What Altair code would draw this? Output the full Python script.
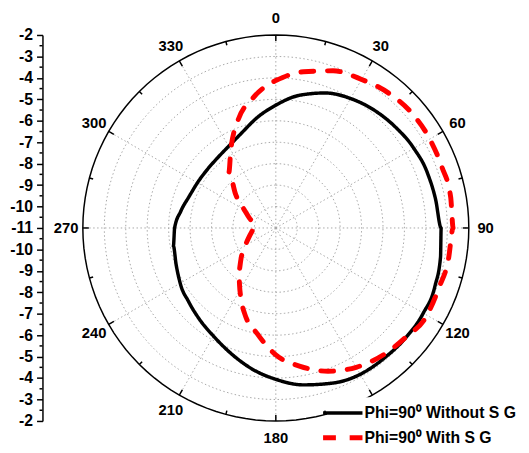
import altair as alt
import pandas as pd

# ---------------- data ----------------
angles = [0, 10, 20, 30, 40, 50, 60, 70, 80, 90, 100, 110, 120, 130, 140, 150, 160, 170, 180,
          190, 200, 210, 220, 230, 240, 250, 260, 270, 280, 290, 300, 310, 320, 330, 340, 350, 360]
without_sg = [-5.27, -4.72, -4.30, -4.03, -3.84, -3.70, -3.57, -3.48, -3.43, -3.29, -3.20, -3.10,
              -3.06, -3.07, -3.10, -3.12, -3.30, -3.57, -3.94, -4.35, -4.80, -5.18, -5.45, -5.68,
              -5.85, -6.05, -6.15, -6.28, -6.50, -6.70, -6.78, -6.80, -6.75, -6.60, -6.30, -5.80, -5.27]
with_sg = [-4.12, -3.60, -3.20, -3.00, -2.80, -2.70, -2.71, -2.75, -2.72, -2.73, -2.82, -2.90,
           -2.86, -3.08, -3.25, -3.50, -3.89, -4.45, -5.08, -6.00, -6.75, -7.65, -8.30, -8.90,
           -9.35, -9.65, -9.85, -10.00, -9.98, -9.70, -9.30, -8.55, -7.60, -6.80, -5.75, -4.85, -4.12]
series_names = ["Phi=90\u2070 Without  S G", "Phi=90\u2070 With S G"]
series_colors = ["#000000", "#ff0000"]

r_min, r_max = -11, -2
grid_levels = [-10, -9, -8, -7, -6, -5, -4, -3]
spoke_angles = [0, 30, 60, 90, 120, 150, 180, 210, 240, 270, 300, 330]
minor_tick_angles = [15, 45, 75, 105, 135, 165, 195, 225, 255, 285, 315, 345]
angle_labels = ["0", "30", "60", "90", "120", "150", "180", "210", "240", "270", "300", "330"]
major_axis_ticks = list(range(-9, 10))
minor_axis_ticks = [v + 0.5 for v in range(-9, 9)]

FONT = "Liberation Sans"
SPAN = r_max - r_min  # radial span in dB

# ---------------- tables ----------------
curve_df = pd.DataFrame({
    "angle": angles + angles,
    "value": without_sg + with_sg,
    "series": [series_names[0]] * len(angles) + [series_names[1]] * len(angles),
})
circle_steps = list(range(0, 361, 3))
grid_df = pd.DataFrame(
    [{"level": lv, "angle": a} for lv in grid_levels for a in circle_steps])
outer_df = pd.DataFrame({"level": [r_max] * len(circle_steps), "angle": circle_steps})
spoke_df = pd.DataFrame({"angle": spoke_angles})
tick_df = pd.DataFrame({
    "angle": spoke_angles + minor_tick_angles,
    "len": [0.28] * len(spoke_angles) + [0.18] * len(minor_tick_angles),
})
label_df = pd.DataFrame({"angle": spoke_angles, "label": angle_labels})
minor_df = pd.DataFrame({"pos": minor_axis_ticks})

xs = alt.Scale(domain=[-SPAN, SPAN], nice=False, zero=False)
ys = alt.Scale(domain=[-SPAN, SPAN], nice=False, zero=False)

y_axis = alt.Axis(
    values=major_axis_ticks,
    labelExpr=f"'' + ({r_min} + abs(datum.value))",
    tickSize=6,
    offset=41, grid=False, title=None,
    domainColor="black", domainWidth=1.5, tickColor="black", tickWidth=1.5,
    labelFont=FONT, labelFontSize=16, labelFontWeight="bold", labelColor="black",
    labelPadding=4, labelFlush=False, labelOverlap=False,
)


def X(field):
    return alt.X(field, scale=xs, axis=None)


def Y(field):
    return alt.Y(field, scale=ys, axis=y_axis)


SIN = "sin(datum.angle * PI / 180)"
COS = "cos(datum.angle * PI / 180)"
RR = f"(datum.value - ({r_min}))"
RL = f"(datum.level - ({r_min}))"

grid = alt.Chart(grid_df).transform_calculate(
    x=f"{RL} * {SIN}", y=f"{RL} * {COS}"
).mark_line(stroke="#a8a8a8", strokeWidth=1, strokeDash=[1.5, 2.5]).encode(
    x=X("x:Q"), y=Y("y:Q"), detail="level:N", order="angle:Q",
)

spokes = alt.Chart(spoke_df).transform_calculate(
    x0="0", y0="0", x1=f"{SPAN} * {SIN}", y1=f"{SPAN} * {COS}"
).mark_rule(stroke="#a8a8a8", strokeWidth=1, strokeDash=[1.5, 2.5]).encode(
    x=X("x0:Q"), y=Y("y0:Q"), x2="x1:Q", y2="y1:Q",
)

outer = alt.Chart(outer_df).transform_calculate(
    x=f"{RL} * {SIN}", y=f"{RL} * {COS}"
).mark_line(stroke="black", strokeWidth=1.5).encode(
    x=X("x:Q"), y=Y("y:Q"), order="angle:Q",
)

ticks = alt.Chart(tick_df).transform_calculate(
    x1=f"{SPAN} * {SIN}", y1=f"{SPAN} * {COS}",
    x2=f"({SPAN} - datum.len) * {SIN}", y2=f"({SPAN} - datum.len) * {COS}",
).mark_rule(stroke="black", strokeWidth=1.5).encode(
    x=X("x1:Q"), y=Y("y1:Q"), x2="x2:Q", y2="y2:Q",
)

labels = alt.Chart(label_df).transform_calculate(
    x=f"{SPAN * 1.087} * {SIN}", y=f"{SPAN * 1.087} * {COS}"
).mark_text(font=FONT, fontSize=15, fontWeight="bold", color="black",
            align="center", baseline="middle").encode(
    x=X("x:Q"), y=Y("y:Q"), text="label:N",
)

# minor ticks of the left dB axis (the axis itself sits 41 px left of the plot)
minor_ticks = alt.Chart(minor_df).mark_rule(stroke="black", strokeWidth=1.5).encode(
    x=alt.value(-41),
    x2=alt.value(-44),
    y=Y("pos:Q"),
)

legend = alt.Legend(
    orient="none", legendX=248, legendY=368, title=None,
    fillColor="white", padding=8,
    symbolType="M-4,0H4", symbolSize=100,
    labelFont=FONT, labelFontSize=16, labelFontWeight="bold", labelColor="black",
    labelOffset=14, rowPadding=7, labelLimit=400,
)

curves = alt.Chart(curve_df).transform_calculate(
    x=f"{RR} * {SIN}", y=f"{RR} * {COS}"
).mark_line(strokeCap="round", strokeJoin="round", interpolate="monotone").encode(
    x=X("x:Q"),
    y=Y("y:Q"),
    order="angle:Q",
    color=alt.Color("series:N", scale=alt.Scale(domain=series_names, range=series_colors),
                    legend=legend),
    strokeDash=alt.StrokeDash("series:N",
                              scale=alt.Scale(domain=series_names, range=[[1, 0], [13, 14]]),
                              legend=legend),
    strokeWidth=alt.StrokeWidth("series:N",
                                scale=alt.Scale(type="ordinal", domain=series_names, range=[3.5, 5]),
                                legend=legend),
)

chart = alt.layer(grid, spokes, outer, ticks, labels, minor_ticks, curves).properties(
    width=392, height=392,
    padding={"left": 76, "top": 24, "right": 53, "bottom": 21},
    autosize=alt.AutoSizeParams(type="none"),
    background="white",
).configure_view(stroke=None)

chart.save("out.html", embed_options={"renderer": "svg", "actions": False})
